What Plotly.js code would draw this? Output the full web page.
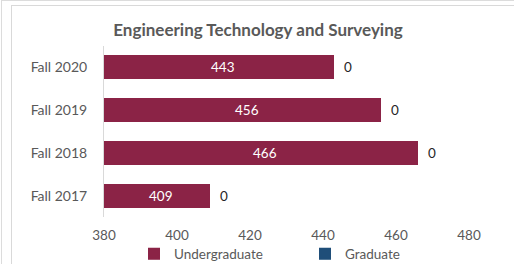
<!DOCTYPE html>
<html>
<head>
<meta charset="utf-8">
<script src="https://cdn.plot.ly/plotly-3.0.1.min.js"></script>
<style>
html, body { margin: 0; padding: 0; background: #ffffff; }
#wrap { position: relative; width: 514px; height: 264px; overflow: hidden; }
#outerL { position: absolute; left: 1px; top: 0; width: 1px; height: 264px; background: #dcdcdc; }
#outerT { position: absolute; left: 1px; top: 0; width: 513px; height: 1px; background: #dcdcdc; }
#frame { position: absolute; left: 11px; top: 5px; width: 520px; height: 270px; border-left: 1px solid #d9d9d9; border-top: 1px solid #d9d9d9; }
#chart { position: absolute; left: 0; top: 0; width: 514px; height: 264px; }
</style>
</head>
<body>
<div id="wrap">
  <div id="outerL"></div>
  <div id="outerT"></div>
  <div id="frame"></div>
  <div id="chart"></div>
</div>
<script>
const categories = ['Fall 2017', 'Fall 2018', 'Fall 2019', 'Fall 2020'];
const undergraduate = [409, 466, 456, 443];
const graduate = [0, 0, 0, 0];
const xTicks = [380, 400, 420, 440, 460, 480];
const xRange = [380, 480];

const FONT = 'Lato, "Open Sans", sans-serif';
const GRAY = '#595959';

const traces = [
  {
    type: 'bar', orientation: 'h', name: 'Undergraduate',
    y: categories, x: undergraduate,
    marker: { color: '#8B2346' },
    hoverinfo: 'x+y'
  },
  {
    type: 'bar', orientation: 'h', name: 'Graduate',
    y: categories, x: graduate,
    marker: { color: '#1F4E79' },
    hoverinfo: 'x+y'
  }
];

// value labels centred in the visible part of each bar
const innerLabels = categories.map((c, i) => ({
  x: (xRange[0] + undergraduate[i]) / 2, y: c, xref: 'x', yref: 'y',
  text: String(undergraduate[i]), showarrow: false, xanchor: 'center', xshift: 4,
  font: { size: 13.5, color: '#ffffff', family: FONT }
}));
// graduate labels just beyond the end of each stacked bar
const outerLabels = categories.map((c, i) => ({
  x: undergraduate[i] + graduate[i], y: c, xref: 'x', yref: 'y',
  text: String(graduate[i]), showarrow: false, xanchor: 'left', xshift: 8,
  font: { size: 13.5, color: '#262626', family: FONT }
}));

const layout = {
  width: 514, height: 264,
  margin: { l: 104, r: 45, t: 46, b: 47 },
  paper_bgcolor: 'rgba(0,0,0,0)', plot_bgcolor: 'rgba(0,0,0,0)',
  font: { family: FONT, color: GRAY, size: 13.5 },
  title: {
    text: '<b>Engineering Technology and Surveying</b>',
    font: { size: 17, color: GRAY, family: FONT },
    x: 0.502, xanchor: 'center', y: 1 - 30 / 264, yanchor: 'middle'
  },
  barmode: 'stack', bargap: 0.44,
  xaxis: {
    range: xRange, tickvals: xTicks, ticktext: xTicks.map(String),
    showgrid: false, zeroline: false, showline: false, ticks: '',
    ticklabelstandoff: 8,
    tickfont: { size: 13.5, color: GRAY, family: FONT }, fixedrange: true
  },
  yaxis: {
    type: 'category', showgrid: false, zeroline: false,
    showline: true, linecolor: '#d9d9d9', linewidth: 1, ticks: '',
    ticklabelstandoff: 13,
    tickfont: { size: 14, color: GRAY, family: FONT }, fixedrange: true
  },
  showlegend: true,
  legend: {
    orientation: 'h', xref: 'container', yref: 'container',
    x: 134 / 514, xanchor: 'left', y: 10 / 264, yanchor: 'middle',
    font: { size: 13.5, color: GRAY, family: FONT },
    traceorder: 'normal', entrywidth: 126, itemwidth: 30, bgcolor: 'rgba(0,0,0,0)'
  },
  annotations: innerLabels.concat(outerLabels)
};

Plotly.newPlot('chart', traces, layout, { displayModeBar: false, staticPlot: true });
</script>
</body>
</html>
